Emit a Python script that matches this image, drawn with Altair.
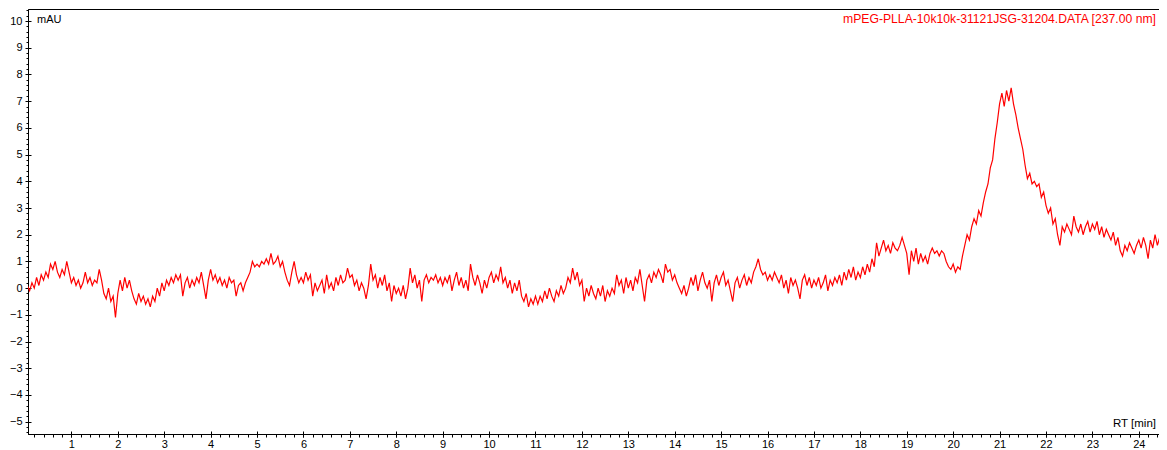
import altair as alt
import pandas as pd

# Absorbance (mAU) sampled every 0.05 min, one list per minute of retention time
m00 = [0.1, -0.1, 0.2, 0.0, 0.4, 0.1, 0.5, 0.3, 0.6, 0.4, 0.9, 0.7, 1.0, 0.6, 0.4, 0.7, 0.5, 1.0, 0.6, 0.2]
m01 = [0.4, 0.1, 0.3, 0.0, 0.2, 0.6, 0.2, 0.4, 0.1, 0.3, 0.2, 0.7, 0.3, -0.2, -0.4, 0.0, -0.5, -0.3, -1.1, -0.2]
m02 = [0.3, -0.1, 0.4, 0.0, 0.3, -0.1, -0.4, -0.6, -0.2, -0.5, -0.3, -0.6, -0.4, -0.7, -0.3, -0.5, 0.0, -0.3, 0.2, -0.1]
m03 = [0.3, 0.1, 0.4, 0.2, 0.5, 0.3, 0.5, -0.3, 0.2, 0.4, 0.0, 0.3, 0.1, 0.4, 0.2, 0.6, 0.1, -0.4, 0.3, 0.7]
m04 = [0.3, 0.5, 0.2, 0.4, 0.1, 0.3, 0.0, 0.4, 0.2, 0.3, -0.3, 0.1, 0.2, -0.1, 0.2, 0.4, 0.6, 1.0, 0.8, 0.9]
m05 = [0.8, 1.0, 0.9, 1.1, 0.9, 1.3, 0.9, 1.0, 1.2, 0.8, 1.0, 0.6, 0.3, 0.1, 0.6, 1.0, 0.5, 0.2, 0.4, 0.2]
m06 = [0.6, 0.3, 0.5, -0.3, 0.2, -0.1, 0.1, 0.3, -0.2, 0.5, 0.0, 0.2, -0.1, 0.4, 0.1, 0.5, 0.2, 0.3, 0.75, 0.4]
m07 = [0.5, 0.1, 0.3, -0.1, 0.2, 0.0, -0.4, 0.1, 0.9, 0.3, 0.5, 0.0, 0.4, 0.1, 0.5, -0.1, 0.2, -0.5, 0.1, -0.2]
m08 = [0.0, -0.3, 0.1, -0.4, 0.0, 0.75, 0.2, 0.5, 0.0, 0.3, -0.5, 0.3, 0.5, 0.2, 0.4, 0.3, 0.5, 0.2, 0.4, 0.1]
m09 = [0.4, 0.2, 0.5, -0.1, 0.3, 0.6, 0.1, 0.4, 0.0, 0.3, -0.1, 0.9, 0.4, 0.1, 0.5, 0.2, -0.2, 0.3, 0.0, 0.4]
m10 = [0.6, 0.2, 0.5, 0.3, 0.8, 0.2, 0.4, 0.0, 0.3, -0.2, 0.2, -0.1, 0.3, -0.3, -0.5, -0.2, -0.7, -0.4, -0.6, -0.3]
m11 = [-0.6, -0.3, -0.5, -0.1, -0.4, 0.0, -0.3, -0.5, -0.1, -0.3, 0.1, -0.2, 0.0, 0.4, 0.2, 0.75, 0.3, 0.6, 0.1, 0.3]
m12 = [-0.5, 0.0, -0.3, 0.1, -0.2, -0.4, 0.0, -0.3, 0.1, -0.5, -0.1, -0.3, 0.0, -0.2, 0.5, 0.1, 0.3, -0.2, 0.4, 0.0]
m13 = [0.3, -0.1, 0.4, 0.2, 0.7, 0.1, -0.5, 0.3, 0.5, 0.2, 0.6, 0.4, 0.7, 0.5, 0.2, 0.9, 0.6, 0.7, 0.3, 0.5]
m14 = [0.2, 0.0, -0.2, 0.1, -0.3, 0.0, 0.4, 0.1, 0.5, -0.1, 0.3, 0.6, 0.2, 0.0, 0.3, -0.5, 0.2, 0.5, 0.1, 0.4]
m15 = [0.6, 0.1, 0.3, -0.1, -0.5, 0.2, 0.4, 0.0, 0.3, 0.5, 0.1, 0.4, 0.2, 0.6, 0.8, 1.1, 0.7, 0.5, 0.6, 0.3]
m16 = [0.5, 0.3, 0.6, 0.4, 0.2, 0.5, 0.0, 0.3, -0.2, 0.4, 0.1, 0.3, 0.0, -0.4, 0.3, 0.5, 0.1, 0.4, 0.0, 0.3]
m17 = [0.1, 0.4, 0.0, 0.2, 0.5, -0.1, 0.3, 0.1, 0.4, 0.2, 0.5, 0.1, 0.6, 0.3, 0.7, 0.4, 0.8, 0.3, 0.6, 0.4]
m18 = [0.8, 0.5, 0.9, 0.6, 1.1, 0.8, 1.7, 1.2, 1.5, 1.8, 1.4, 1.6, 1.3, 1.7, 1.5, 1.4, 1.6, 1.9, 1.6, 1.3]
m19 = [0.5, 1.4, 1.0, 1.5, 0.9, 1.3, 1.0, 1.2, 0.9, 1.3, 1.5, 1.3, 1.4, 1.2, 1.4, 1.3, 1.0, 0.8, 0.7, 0.9]
m20 = [0.6, 0.8, 0.7, 1.2, 1.6, 2.0, 1.8, 2.3, 2.6, 2.4, 2.9, 2.7, 3.2, 3.6, 3.9, 4.5, 4.8, 5.6, 6.2, 6.9]
m21 = [7.3, 6.8, 7.4, 7.0, 7.5, 6.9, 6.5, 6.0, 5.6, 5.2, 4.6, 4.1, 4.3, 3.9, 4.0, 3.8, 3.9, 3.4, 3.6, 3.1]
m22 = [2.8, 3.0, 2.4, 2.6, 2.0, 1.6, 2.3, 2.1, 2.4, 2.2, 2.0, 2.7, 2.3, 2.1, 2.4, 2.0, 2.3, 2.5, 2.1, 2.4]
m23 = [2.2, 2.5, 2.0, 2.3, 1.9, 2.2, 2.0, 1.8, 2.1, 1.6, 1.9, 1.4, 1.2, 1.6, 1.4, 1.7, 1.5, 1.3, 1.6, 1.8]
m24 = [1.5, 1.9, 1.6, 1.1, 1.8, 1.5, 2.0, 1.6, 1.9, 1.7, 2.1, 1.8, 2.3, 2.0, 2.4, 2.2]

minutes = [m00, m01, m02, m03, m04, m05, m06, m07, m08, m09, m10, m11, m12,
           m13, m14, m15, m16, m17, m18, m19, m20, m21, m22, m23, m24]

x_major = list(range(1, 25))
y_major = list(range(-5, 11))
x_minor = [round(i * 0.2, 1) for i in range(0, 125)]
y_minor = [round(-5.4 + i * 0.2, 1) for i in range(0, 80)]

trace_label = "mPEG-PLLA-10k10k-31121JSG-31204.DATA [237.00 nm]"

rows = []
for m, vals in enumerate(minutes):
    for k, v in enumerate(vals):
        rows.append({"t": round(m + 0.05 * (k + 1), 2), "v": v})
df = pd.DataFrame(rows)

W, H = 1147, 425
FONT = "Liberation Sans"

xs = alt.Scale(domain=[0.065, 24.78], nice=False, zero=False)
ys = alt.Scale(domain=[-5.46, 10.45], nice=False, zero=False)

base = alt.Chart(df)

main = base.mark_line(color="#ff0000", strokeWidth=1.2, clip=True).encode(
    x=alt.X("t:Q", scale=xs, axis=alt.Axis(
        orient="bottom", values=x_major, format="d", title=None, grid=False,
        tickSize=3, tickColor="black", domainColor="black", labelColor="black",
        labelFont=FONT, labelFontSize=11, labelPadding=1, labelFlush=False)),
    y=alt.Y("v:Q", scale=ys, axis=alt.Axis(
        orient="left", values=y_major, format="d", title=None, grid=False,
        tickSize=3, tickColor="black", domainColor="black", labelColor="black",
        labelFont=FONT, labelFontSize=11, labelPadding=3, labelFlush=False)),
)

minor = base.mark_line(opacity=0).encode(
    x=alt.X("t:Q", scale=xs, axis=alt.Axis(
        orient="bottom", values=x_minor, labels=False, domain=False, title=None,
        grid=False, tickSize=3, tickColor="black")),
    y=alt.Y("v:Q", scale=ys, axis=alt.Axis(
        orient="left", values=y_minor, labels=False, domain=False, title=None,
        grid=False, tickSize=2, tickColor="black")),
)

inner = base.mark_line(opacity=0).encode(
    x=alt.X("t:Q", scale=xs, axis=alt.Axis(
        orient="top", offset=-H, values=x_major, labels=False, domain=False,
        title=None, grid=False, tickSize=3, tickColor="black")),
    y=alt.Y("v:Q", scale=ys, axis=alt.Axis(
        orient="right", offset=-W, values=y_major, labels=False, domain=False,
        title=None, grid=False, tickSize=3, tickColor="black")),
)

txt = pd.DataFrame({"label": [trace_label]})
red_label = alt.Chart(txt).mark_text(
    align="right", baseline="alphabetic", color="#ff0000", font=FONT, fontSize=12.2
).encode(x=alt.value(1128), y=alt.value(13.5), text="label:N")

mau = alt.Chart(pd.DataFrame({"label": ["mAU"]})).mark_text(
    align="left", baseline="alphabetic", color="black", font=FONT, fontSize=11
).encode(x=alt.value(9), y=alt.value(14), text="label:N")

rt = alt.Chart(pd.DataFrame({"label": ["RT [min]"]})).mark_text(
    align="right", baseline="alphabetic", color="black", font=FONT, fontSize=11.5
).encode(x=alt.value(1128), y=alt.value(418), text="label:N")

chart = alt.layer(main, minor, inner, red_label, mau, rt).resolve_axis(
    x="independent", y="independent"
).properties(
    width=W, height=H,
    autosize=alt.AutoSizeParams(type="none"),
    padding={"left": 20, "top": 1, "right": -16, "bottom": 16},
    background="white",
).configure_view(stroke="black", strokeWidth=1)

chart.save("out.html", embed_options={"renderer": "svg", "actions": False})
